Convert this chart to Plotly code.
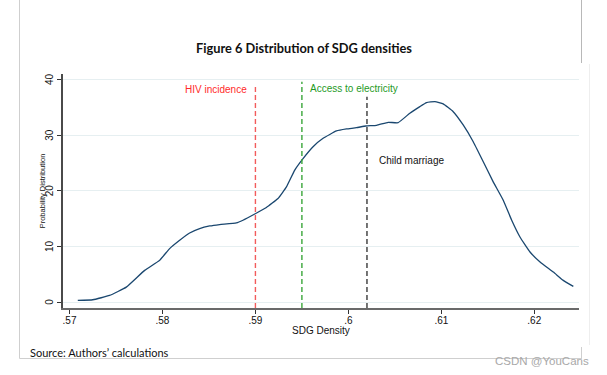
import plotly.graph_objects as go

# ---- data ----
sdg_density = [0.57089, 0.57251, 0.57431, 0.57611, 0.57808, 0.57969, 0.58077, 0.58185,
               0.58292, 0.58400, 0.58508, 0.58615, 0.58795, 0.58866, 0.59003, 0.59118,
               0.59243, 0.59334, 0.59423, 0.59506, 0.59620, 0.59728, 0.59872, 0.59980,
               0.60087, 0.60188, 0.60303, 0.60428, 0.60535, 0.60661, 0.60769, 0.60841,
               0.60931, 0.61020, 0.61128, 0.61235, 0.61343, 0.61451, 0.61558, 0.61666,
               0.61757, 0.61846, 0.61954, 0.62062, 0.62205, 0.62312, 0.62420]
prob_dist = [0.31, 0.43, 1.21, 2.70, 5.71, 7.51, 9.62, 11.12,
             12.43, 13.23, 13.69, 13.95, 14.23, 14.72, 15.93, 17.01,
             18.63, 20.72, 23.73, 25.66, 27.93, 29.44, 30.76, 31.12,
             31.35, 31.66, 31.78, 32.32, 32.25, 33.95, 35.14, 35.86,
             36.04, 35.62, 34.23, 31.84, 28.83, 25.23, 21.62, 18.32,
             14.72, 11.71, 9.01, 7.21, 5.41, 3.91, 2.83]

marker_names = ["HIV incidence", "Access to electricity", "Child marriage"]
marker_x = [0.590, 0.595, 0.602]
marker_top = [39.05, 39.6, 36.9]
marker_colors = ["#f25c5c", "#3aa63a", "#3a3a3a"]
label_colors = ["#ff2a2a", "#1f9a1f", "#111111"]

x_tickvals = [0.57, 0.58, 0.59, 0.60, 0.61, 0.62]
x_ticktext = [".57", ".58", ".59", ".6", ".61", ".62"]
y_tickvals = [0, 10, 20, 30, 40]
y_ticktext = ["0", "10", "20", "30", "40"]

X_RANGE = [0.56930, 0.62481]
Y_RANGE = [-1.05, 41.0]

# ---- layout geometry ----
W, H = 607, 375
ML, MR, MT, MB = 63, 28, 74, 67
PW, PH = W - ML - MR, H - MT - MB


def px(x):
    return (x - ML) / PW


def py(y):
    return (H - MB - y) / PH


fig = go.Figure()

fig.add_trace(go.Scatter(
    x=sdg_density, y=prob_dist, mode="lines",
    line=dict(color="#1a476f", width=1.3, shape="spline", smoothing=0.35),
    hoverinfo="skip", showlegend=False))

shapes = []
for xv, top, col in zip(marker_x, marker_top, marker_colors):
    shapes.append(dict(type="line", xref="x", yref="y", x0=xv, x1=xv,
                       y0=Y_RANGE[0], y1=top,
                       line=dict(color=col, width=1.4, dash="5px,3px")))

# page frame lines (from the screenshot composite)
frame_col = "#cfcfcf"
shapes += [
    dict(type="line", xref="paper", yref="paper", x0=px(19.5), x1=px(19.5), y0=py(0), y1=py(358.5),
         line=dict(color=frame_col, width=1)),
    dict(type="line", xref="paper", yref="paper", x0=px(19.5), x1=px(582), y0=py(358.5), y1=py(358.5),
         line=dict(color=frame_col, width=1)),
    dict(type="line", xref="paper", yref="paper", x0=px(581.5), x1=px(581.5), y0=py(0), y1=py(63),
         line=dict(color="#b8b8b8", width=1)),
    dict(type="line", xref="paper", yref="paper", x0=px(589.5), x1=px(589.5), y0=py(64), y1=py(345),
         line=dict(color="#eeeeee", width=1)),
    dict(type="line", xref="paper", yref="paper", x0=px(581.5), x1=px(581.5), y0=py(347), y1=py(359),
         line=dict(color=frame_col, width=1)),
]

annotations = []
# marker labels
annotations.append(dict(x=marker_x[0], y=89.5, xref="x", yref="paper", text=marker_names[0],
                        showarrow=False, xanchor="right", yanchor="middle", xshift=-6,
                        font=dict(family="Liberation Sans", size=10, color=label_colors[0])))
annotations.append(dict(x=marker_x[1], y=88.5, xref="x", yref="paper", text=marker_names[1],
                        showarrow=False, xanchor="left", yanchor="middle", xshift=6,
                        font=dict(family="Liberation Sans", size=10, color=label_colors[1])))
annotations.append(dict(x=marker_x[2], y=160, xref="x", yref="paper", text=marker_names[2],
                        showarrow=False, xanchor="left", yanchor="middle", xshift=10,
                        font=dict(family="Liberation Sans", size=10, color=label_colors[2])))
for a in annotations:
    a["y"] = py(a["y"])

# rotated y tick labels (Stata style), placed on the y scale
for val, txt in zip(y_tickvals, y_ticktext):
    annotations.append(dict(x=px(49.5), y=val, xref="paper", yref="y", text=txt,
                            textangle=-90, showarrow=False,
                            xanchor="center", yanchor="middle",
                            font=dict(family="Liberation Sans", size=10, color="#111111")))

# title
annotations.append(dict(x=px(304), y=py(48.5), xref="paper", yref="paper",
                        text="<b>Figure 6 Distribution of SDG densities</b>", showarrow=False,
                        xanchor="center", yanchor="middle",
                        font=dict(family="Lato", size=12.8, color="#111111")))
# axis titles
annotations.append(dict(x=px(321), y=py(330), xref="paper", yref="paper", text="SDG Density",
                        showarrow=False, xanchor="center", yanchor="middle",
                        font=dict(family="Liberation Sans", size=10, color="#111111")))
annotations.append(dict(x=px(42.5), y=py(190.8), xref="paper", yref="paper",
                        text="Probability Distribution", textangle=-90, showarrow=False,
                        xanchor="center", yanchor="middle",
                        font=dict(family="Liberation Sans", size=7.5, color="#111111")))
# source note
annotations.append(dict(x=px(28), y=py(352), xref="paper", yref="paper",
                        text="Source: Authors\u2019 calculations", showarrow=False,
                        xanchor="left", yanchor="middle",
                        font=dict(family="Lato", size=11, color="#111111")))
# watermark
annotations.append(dict(x=px(591), y=py(361), xref="paper", yref="paper",
                        text="CSDN @YouCans", showarrow=False,
                        xanchor="right", yanchor="middle",
                        font=dict(family="Liberation Sans", size=11.5, color="#a8a8a8")))

fig.update_layout(
    width=W, height=H,
    margin=dict(l=ML, r=MR, t=MT, b=MB, pad=0),
    paper_bgcolor="white", plot_bgcolor="white",
    showlegend=False,
    shapes=shapes,
    annotations=annotations,
    xaxis=dict(range=X_RANGE, tickvals=x_tickvals, ticktext=x_ticktext,
               showgrid=False, zeroline=False,
               showline=True, linecolor="#6a6a6a", linewidth=2.2,
               ticks="outside", ticklen=4, tickwidth=1, tickcolor="#333333",
               ticklabelstandoff=-2,
               tickfont=dict(family="Liberation Sans", size=10, color="#111111")),
    yaxis=dict(range=Y_RANGE, tickvals=y_tickvals, showticklabels=False,
               showgrid=True, gridcolor="#e6eff1", gridwidth=1, zeroline=False,
               showline=True, linecolor="#4a4a4a", linewidth=1.6,
               ticks="outside", ticklen=4, tickwidth=1, tickcolor="#333333"),
)

fig.write_html("out.html", config={"displayModeBar": False},
               post_script="document.body.style.margin='0';document.body.style.padding='0';")
